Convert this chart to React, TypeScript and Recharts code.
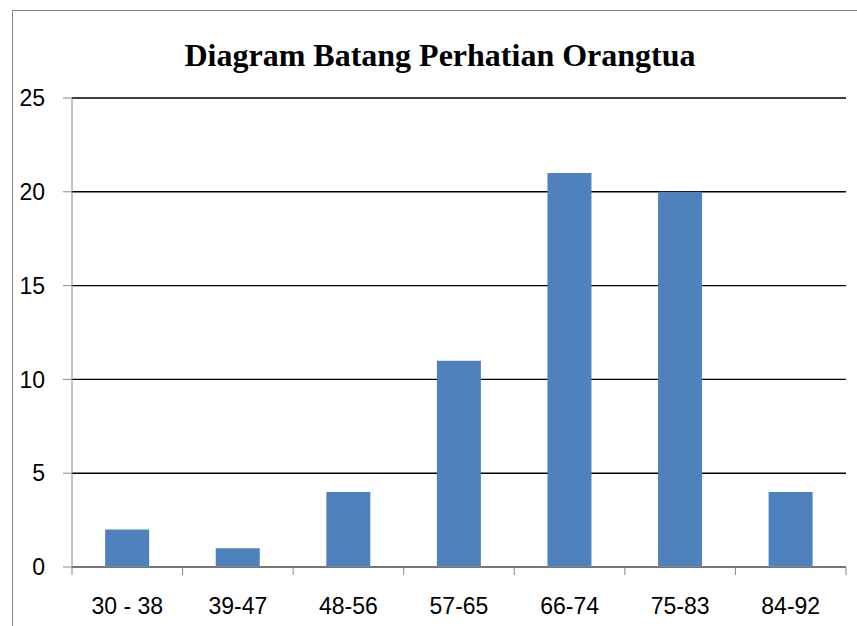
import { BarChart, Bar, XAxis, YAxis, CartesianGrid } from "recharts";

const categories = ["30 - 38", "39-47", "48-56", "57-65", "66-74", "75-83", "84-92"];
const counts = [2, 1, 4, 11, 21, 20, 4];
const yTicks = [0, 5, 10, 15, 20, 25];

const data = categories.map((label, i) => ({ label, value: counts[i] }));

const fontFamily = "Liberation Sans, Arial, sans-serif";
const labelFont = { fill: "#000", fontSize: 23, fontFamily };

const TICK_SIZE = 8;
const TICK_MARGIN = 23;

// category label plus tick marks on the band edges (Excel style)
function EdgeTick(props: any) {
  const { x, y, payload, index, visibleTicksCount } = props;
  const half = payload?.offset || 0;
  const axisY = y - TICK_SIZE - TICK_MARGIN;
  const last = index === visibleTicksCount - 1;
  return (
    <g>
      <line x1={x - half} x2={x - half} y1={axisY} y2={axisY + TICK_SIZE} stroke="#888" />
      {last && <line x1={x + half} x2={x + half} y1={axisY} y2={axisY + TICK_SIZE} stroke="#888" />}
      <text x={x} y={y} dy="0.71em" textAnchor="middle" fill="#000" fontSize={23} fontFamily={fontFamily}>
        {payload.value}
      </text>
    </g>
  );
}

export default function App() {
  return (
    <div style={{ position: "absolute", left: 0, top: 0, width: 857, height: 626, background: "#fff", overflow: "hidden" }}>
      <div
        style={{
          position: "absolute",
          left: 12,
          top: 10,
          width: 900,
          height: 700,
          borderLeft: "1px solid #888",
          borderTop: "1px solid #888",
        }}
      />
      <div
        style={{
          position: "absolute",
          left: 90,
          top: 39,
          width: 700,
          textAlign: "center",
          fontFamily: "Liberation Serif, Times New Roman, serif",
          fontWeight: "bold",
          fontSize: 32,
          lineHeight: "32px",
          color: "#000",
        }}
      >
        Diagram Batang Perhatian Orangtua
      </div>
      <div style={{ position: "absolute", left: 0, top: 0 }}>
        <BarChart
          width={857}
          height={626}
          data={data}
          margin={{ top: 98, right: 11, left: 0, bottom: 0 }}
          barCategoryGap="30%"
        >
          <CartesianGrid vertical={false} stroke="#000" strokeWidth={1.4} />
          <XAxis
            dataKey="label"
            height={59}
            tick={<EdgeTick />}
            tickLine={false}
            tickSize={TICK_SIZE}
            tickMargin={TICK_MARGIN}
            axisLine={{ stroke: "#888", strokeWidth: 1.5 }}
            interval={0}
          />
          <YAxis
            domain={[0, 25]}
            ticks={yTicks}
            width={72}
            tick={labelFont}
            tickSize={9}
            tickMargin={18}
            tickLine={{ stroke: "#888" }}
            axisLine={{ stroke: "#888" }}
          />
          <Bar dataKey="value" fill="#4F81BD" isAnimationActive={false} />
        </BarChart>
      </div>
    </div>
  );
}
